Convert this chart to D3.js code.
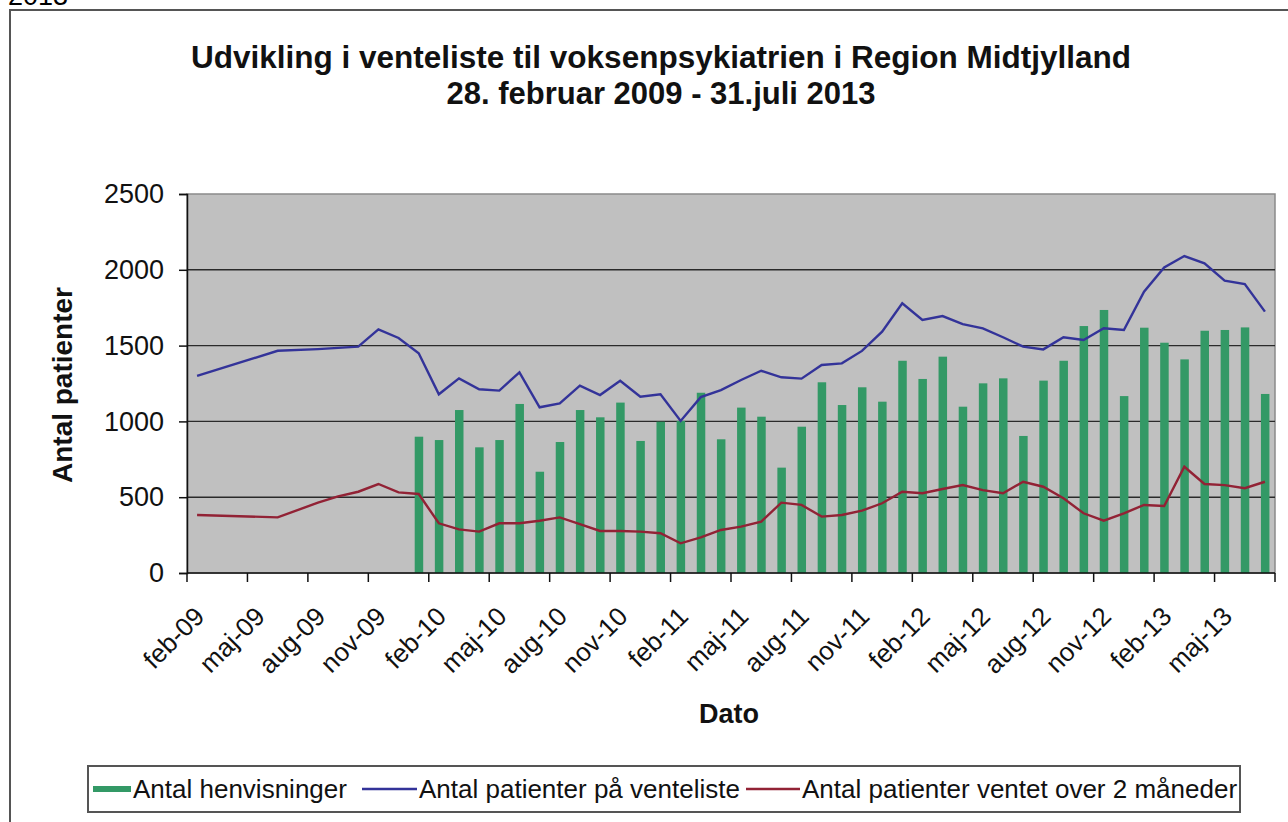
<!DOCTYPE html>
<html>
<head>
<meta charset="utf-8">
<script src="https://cdn.jsdelivr.net/npm/d3@7"></script>
<style>
    body { margin: 0; background: white; }
    text { font-family: Arial, "Liberation Sans", sans-serif; }
</style>
</head>
<body>
<div id="plot"></div>
<script>
// months with a point on the two lines
const lineMonths = ["2009-02", "2009-06", "2009-08", "2009-09", "2009-10", "2009-11", "2009-12",
    "2010-01", "2010-02", "2010-03", "2010-04", "2010-05", "2010-06", "2010-07", "2010-08", "2010-09", "2010-10", "2010-11", "2010-12",
    "2011-01", "2011-02", "2011-03", "2011-04", "2011-05", "2011-06", "2011-07", "2011-08", "2011-09", "2011-10", "2011-11", "2011-12",
    "2012-01", "2012-02", "2012-03", "2012-04", "2012-05", "2012-06", "2012-07", "2012-08", "2012-09", "2012-10", "2012-11", "2012-12",
    "2013-01", "2013-02", "2013-03", "2013-04", "2013-05", "2013-06", "2013-07"];

const venteliste = [1300, 1466, 1477, 1485, 1493, 1607, 1550,
    1450, 1179, 1284, 1212, 1203, 1324, 1093, 1119, 1236, 1174, 1268, 1163,
    1179, 1003, 1160, 1207, 1273, 1334, 1291, 1282, 1372, 1383, 1465, 1592,
    1779, 1669, 1695, 1642, 1614, 1555, 1493, 1475, 1555, 1537, 1614, 1603,
    1856, 2016, 2091, 2043, 1929, 1906, 1724];

const over2mdr = [383, 367, 464, 506, 536, 587, 532,
    521, 328, 288, 273, 328, 328, 345, 367, 323, 277, 277, 273,
    262, 196, 235, 284, 306, 339, 464, 449, 372, 383, 411, 460,
    536, 526, 554, 580, 547, 526, 602, 569, 493, 394, 345, 394,
    449, 442, 701, 587, 580, 559, 602];

// henvisninger, monthly jan-10 .. jul-13
const barMonths = d3.timeMonth.range(new Date(2010, 0, 1), new Date(2013, 7, 1)).map(d3.timeFormat("%Y-%m"));
const henvisninger = [899, 877, 1075, 829, 877, 1115, 668, 864, 1075, 1027, 1124, 871,
    998, 1003, 1189, 882, 1091, 1031, 695, 965, 1258, 1108, 1225, 1130,
    1400, 1280, 1427, 1097, 1251, 1284, 904, 1269, 1400, 1629, 1735, 1167,
    1618, 1519, 1409, 1598, 1603, 1620, 1181];

const yTicks = [0, 500, 1000, 1500, 2000, 2500];
const danishMonths = ["jan", "feb", "mar", "apr", "maj", "jun", "jul", "aug", "sep", "okt", "nov", "dec"];

const seriesNames = ["Antal henvisninger", "Antal patienter på venteliste", "Antal patienter ventet over 2 måneder"];
const colors = {bar: "#339966", blue: "#333399", red: "#922235"};

// canvas
const width = 1288;
const height = 822;
const margin = {top: 194, right: 13, bottom: 249, left: 187};

const svg = d3.select("#plot").append("svg")
    .attr("width", width)
    .attr("height", height);

// text above the chart, cut off by the picture edge
svg.append("text")
    .attr("x", 8)
    .attr("y", 5)
    .attr("font-family", "Liberation Mono, DejaVu Sans Mono, monospace")
    .attr("font-size", 27)
    .text("2013");

// chart frame
svg.append("rect")
    .attr("x", 10)
    .attr("y", 10)
    .attr("width", 1290)
    .attr("height", 830)
    .attr("fill", "white")
    .attr("stroke", "#555")
    .attr("stroke-width", 2);

// scales
const allMonths = d3.timeMonth.range(new Date(2009, 1, 1), new Date(2013, 7, 1)).map(d3.timeFormat("%Y-%m"));
const xScale = d3.scaleBand()
    .domain(allMonths)
    .range([margin.left, width - margin.right])
    .padding(0);
const bw = xScale.bandwidth();
const xc = m => xScale(m) + bw / 2;

const yScale = d3.scaleLinear()
    .domain([0, 2500])
    .range([height - margin.bottom, margin.top]);

// plot area
svg.append("rect")
    .attr("x", margin.left)
    .attr("y", margin.top)
    .attr("width", width - margin.right - margin.left)
    .attr("height", height - margin.bottom - margin.top)
    .attr("fill", "#c0c0c0")
    .attr("stroke", "#8a8a8a")
    .attr("stroke-width", 1.5);

// gridlines
svg.append("g")
    .selectAll("line")
    .data(yTicks.filter(d => d > 0 && d < 2500))
    .enter()
    .append("line")
    .attr("x1", margin.left)
    .attr("x2", width - margin.right)
    .attr("y1", d => yScale(d))
    .attr("y2", d => yScale(d))
    .attr("stroke", "#2a2a2a")
    .attr("stroke-width", 1.4);

// bars
svg.append("g")
    .selectAll("rect")
    .data(henvisninger)
    .enter()
    .append("rect")
    .attr("x", (d, i) => xc(barMonths[i]) - 4)
    .attr("y", d => yScale(d))
    .attr("width", 8.5)
    .attr("height", d => yScale(0) - yScale(d))
    .attr("fill", colors.bar);

// lines
const line = d3.line()
    .x(d => xc(d[0]))
    .y(d => yScale(d[1]));

svg.append("path")
    .datum(lineMonths.map((m, i) => [m, venteliste[i]]))
    .attr("d", line)
    .attr("fill", "none")
    .attr("stroke", colors.blue)
    .attr("stroke-width", 2.4);

svg.append("path")
    .datum(lineMonths.map((m, i) => [m, over2mdr[i]]))
    .attr("d", line)
    .attr("fill", "none")
    .attr("stroke", colors.red)
    .attr("stroke-width", 2.4);

// y axis
const yAxis = d3.axisLeft(yScale).tickValues(yTicks).tickFormat(d3.format("d")).tickSize(8).tickPadding(15);
svg.append("g")
    .attr("transform", `translate(${margin.left}, 0)`)
    .call(yAxis)
    .call(g => g.select(".domain").attr("stroke", "#111").attr("stroke-width", 1.5))
    .call(g => g.selectAll(".tick line").attr("stroke", "#111").attr("stroke-width", 1.5))
    .selectAll("text")
    .attr("font-size", 27)
    .attr("font-family", "Arial, Liberation Sans, sans-serif")
    .attr("fill", "#111");

// x axis, a tick every 3 months
const tickMonths = allMonths.filter((d, i) => i % 3 === 0);
const xAxisG = svg.append("g")
    .attr("transform", `translate(0, ${height - margin.bottom})`);
xAxisG.append("line")
    .attr("x1", margin.left)
    .attr("x2", width - margin.right)
    .attr("stroke", "#111")
    .attr("stroke-width", 1.5);
xAxisG.selectAll(".tk")
    .data(tickMonths.concat(["end"]))
    .enter()
    .append("line")
    .attr("x1", d => d === "end" ? width - margin.right : xScale(d))
    .attr("x2", d => d === "end" ? width - margin.right : xScale(d))
    .attr("y1", 0)
    .attr("y2", 9)
    .attr("stroke", "#111")
    .attr("stroke-width", 1.5);
xAxisG.selectAll("text")
    .data(tickMonths)
    .enter()
    .append("text")
    .attr("transform", d => `translate(${xc(d) + 9}, 45) rotate(-45)`)
    .attr("text-anchor", "end")
    .attr("font-size", 26)
    .attr("fill", "#111")
    .text(d => {
        const [y, m] = d.split("-");
        return `${danishMonths[+m - 1]}-${y.slice(2)}`;
    });

// titles
svg.append("text")
    .attr("x", 661)
    .attr("y", 68)
    .attr("text-anchor", "middle")
    .attr("font-size", 31.5)
    .attr("font-weight", "bold")
    .attr("fill", "#111")
    .text("Udvikling i venteliste til voksenpsykiatrien i Region Midtjylland");
svg.append("text")
    .attr("x", 661)
    .attr("y", 104)
    .attr("text-anchor", "middle")
    .attr("font-size", 31)
    .attr("font-weight", "bold")
    .attr("fill", "#111")
    .text("28. februar 2009 - 31.juli 2013");

svg.append("text")
    .attr("transform", "translate(72, 385) rotate(-90)")
    .attr("text-anchor", "middle")
    .attr("font-size", 28)
    .attr("font-weight", "bold")
    .attr("fill", "#111")
    .text("Antal patienter");

svg.append("text")
    .attr("x", 729)
    .attr("y", 723)
    .attr("text-anchor", "middle")
    .attr("font-size", 27)
    .attr("font-weight", "bold")
    .attr("fill", "#111")
    .text("Dato");

// legend
const legend = svg.append("g");
legend.append("rect")
    .attr("x", 88)
    .attr("y", 766)
    .attr("width", 1152)
    .attr("height", 46)
    .attr("fill", "white")
    .attr("stroke", "#555")
    .attr("stroke-width", 2);

const legendItems = [
    {name: seriesNames[0], type: "bar", color: colors.bar, x: 93, w: 38},
    {name: seriesNames[1], type: "line", color: colors.blue, x: 362, w: 55},
    {name: seriesNames[2], type: "line", color: colors.red, x: 746, w: 54}
];
legendItems.forEach(d => {
    if (d.type === "bar") {
        legend.append("rect")
            .attr("x", d.x).attr("y", 786).attr("width", d.w).attr("height", 6)
            .attr("fill", d.color);
    } else {
        legend.append("line")
            .attr("x1", d.x).attr("x2", d.x + d.w).attr("y1", 789).attr("y2", 789)
            .attr("stroke", d.color).attr("stroke-width", 2.4);
    }
    legend.append("text")
        .attr("x", d.x + d.w + 2)
        .attr("y", 798)
        .attr("font-size", 26)
        .attr("fill", "#111")
        .text(d.name);
});
</script>
</body>
</html>
